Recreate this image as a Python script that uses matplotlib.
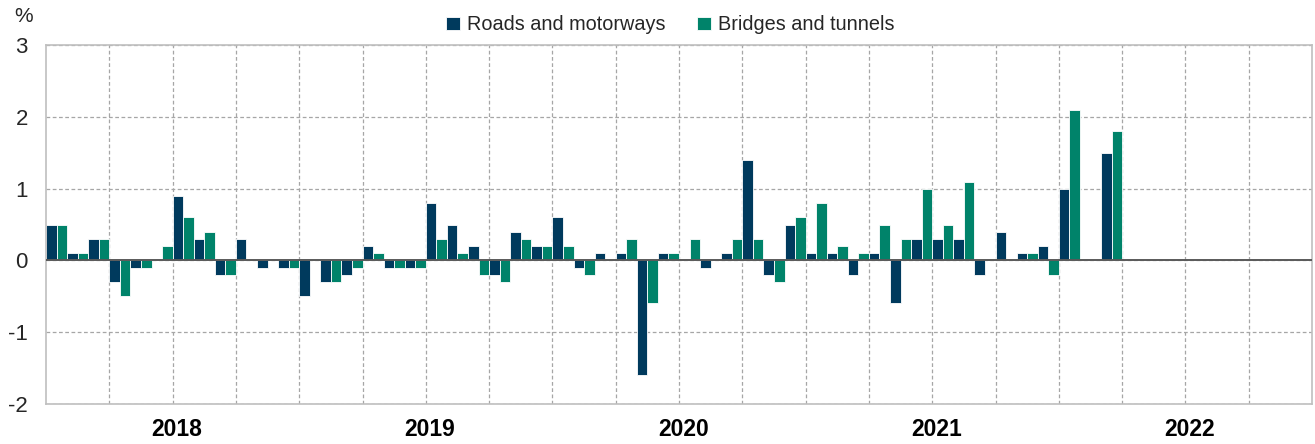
import matplotlib
matplotlib.use("Agg")
import matplotlib.pyplot as plt
import numpy as np

plt.rcParams['font.family'] = ['Liberation Sans', 'DejaVu Sans']

# monthly % change, Jul 2017 .. Sep 2021
roads = [0.5, 0.1, 0.3, -0.3, -0.1, 0.0, 0.9, 0.3, -0.2, 0.3, -0.1, -0.1,
         -0.5, -0.3, -0.2, 0.2, -0.1, -0.1, 0.8, 0.5, 0.2, -0.2, 0.4, 0.2,
         0.6, -0.1, 0.1, 0.1, -1.6, 0.1, 0.0, -0.1, 0.1, 1.4, -0.2, 0.5,
         0.1, 0.1, -0.2, 0.1, -0.6, 0.3, 0.3, 0.3, -0.2, 0.4, 0.1, 0.2,
         1.0, 0.0, 1.5]
bridges = [0.5, 0.1, 0.3, -0.5, -0.1, 0.2, 0.6, 0.4, -0.2, 0.0, 0.0, -0.1,
           0.0, -0.3, -0.1, 0.1, -0.1, -0.1, 0.3, 0.1, -0.2, -0.3, 0.3, 0.2,
           0.2, -0.2, 0.0, 0.3, -0.6, 0.1, 0.3, 0.0, 0.3, 0.3, -0.3, 0.6,
           0.8, 0.2, 0.1, 0.5, 0.3, 1.0, 0.5, 1.1, 0.0, 0.0, 0.1, -0.2,
           2.1, 0.0, 1.8]
years = ['2018', '2019', '2020', '2021', '2022']
n_months = 60  # Jul 2017 .. Jun 2022

dark = '#003A5D'
green = '#00836A'

fig = plt.figure(figsize=(13.15, 4.44), dpi=100)
ax = fig.add_axes([46/1315, 1-403.7/444, (1312-46)/1315, (403.7-45.5)/444])

x = np.arange(len(roads))
ax.bar(x + 0.25, roads, width=0.5, color=dark, edgecolor='white', linewidth=0.6,
       label='Roads and motorways', zorder=2)
ax.bar(x + 0.75, bridges, width=0.5, color=green, edgecolor='white', linewidth=0.6,
       label='Bridges and tunnels', zorder=2)
ax.axhline(0, color='#595959', linewidth=1.4, zorder=3)

ax.set_xlim(0, n_months)
ax.set_ylim(-2, 3)
ax.set_yticks([-2, -1, 0, 1, 2, 3])
ax.set_yticklabels(['-2', '-1', '0', '1', '2', '3'])
ax.set_xticks(np.arange(3, n_months, 3), minor=True)
ax.set_xticks(np.arange(6, n_months, 12) + 0.2)
ax.set_xticklabels(years, fontweight='bold')
ax.tick_params(axis='x', which='both', length=0, pad=10, labelsize=16.5, colors='black')
ax.tick_params(axis='y', length=0, pad=13, labelsize=16, labelcolor='#262626')
ax.grid(axis='x', which='minor', color='#A6A6A6', linestyle=(0, (3, 2)), linewidth=0.9)
ax.grid(axis='y', which='major', color='#A6A6A6', linestyle=(0, (3, 2)), linewidth=0.9)
for s in ax.spines.values():
    s.set_color('#BFBFBF')
    s.set_linewidth(1.2)

fig.text(14/1315, 1-17/444, '%', fontsize=15, va='center', ha='left', color='#262626')

leg = fig.legend(loc='center', bbox_to_anchor=(670/1315, 1-25/444), ncol=2, frameon=False,
                 fontsize=14.3, handlelength=0.7, handleheight=0.7, handletextpad=0.35,
                 columnspacing=1.6, labelcolor='#262626')

fig.savefig('out.png', dpi=100)
